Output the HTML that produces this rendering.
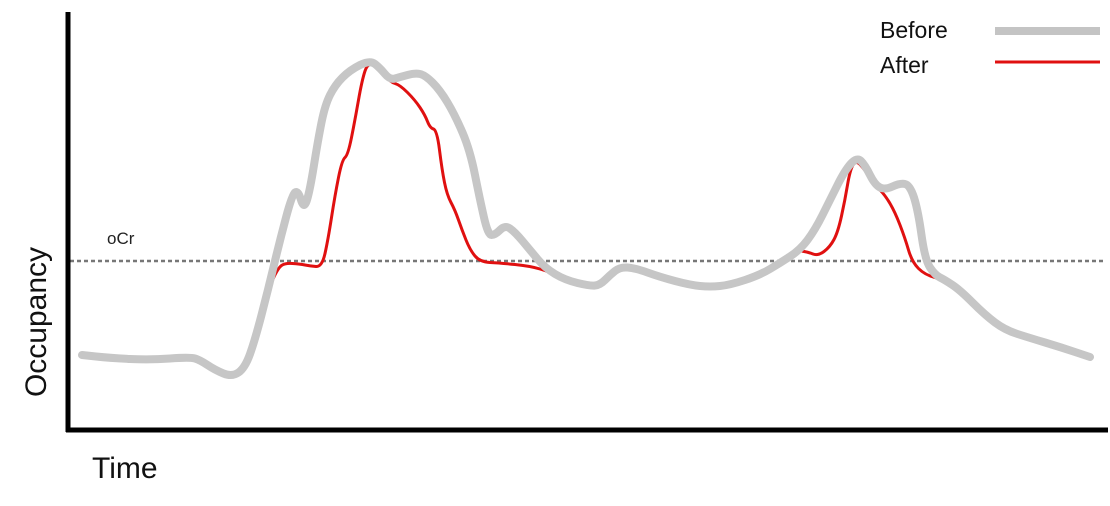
<!DOCTYPE html>
<html><head><meta charset="utf-8"><style>
html,body{margin:0;padding:0;background:#fff;}
svg{display:block;font-family:"Liberation Sans",Arial,sans-serif;}
</style></head><body>
<svg id="chart" width="1110" height="506" viewBox="0 0 1110 506">
<g id="plot"></g>
<line x1="68" y1="12" x2="68" y2="432" stroke="#000" stroke-width="5"/>
<line x1="66" y1="430" x2="1108" y2="430" stroke="#000" stroke-width="5"/>
<text x="0" y="0" transform="translate(46,322) rotate(-90)" text-anchor="middle" font-size="30" fill="#111">Occupancy</text>
<text x="92" y="478" font-size="30" fill="#111">Time</text>
<text x="107" y="244" font-size="17" fill="#222">oCr</text>
<g>
<text x="880" y="38" font-size="23" fill="#111">Before</text>
<line x1="995" y1="31" x2="1100" y2="31" stroke="#c4c4c4" stroke-width="8"/>
<text x="880" y="73" font-size="23" fill="#111">After</text>
<line x1="995" y1="62" x2="1100" y2="62" stroke="#e01010" stroke-width="3"/>
</g>
</svg>
<script>
const beforeT=[14,42,82,122,132,147,164,177,187,200,212,224,230,236,242,250,257,267,282,302,312,322,332,347,357,372,387,402,412,420,427,437,447,462,477,497,522,532,542,552,567,592,622,642,662,692,712,732,747,762,777,789,797,807,817,832,842,850,857,867,877,892,917,937,962,992,1022];
const beforeV=[75,72,70,73,70,60,53,62,90,140,190,235,240,220,240,290,325,345,360,370,362,350,353,357,355,340,315,280,230,195,195,205,198,180,162,150,144,145,155,163,162,153,145,143,145,155,167,180,200,230,260,273,265,245,240,247,245,220,170,155,150,140,115,100,92,83,73];
const afterT=[14,42,82,122,132,147,164,177,187,200,210,217,232,242,254,260,267,274,280,287,294,300,312,322,332,347,357,362,369,374,379,387,394,402,412,432,462,482,497,522,532,542,552,567,592,622,642,662,692,712,727,740,750,762,770,777,782,788,797,807,817,827,837,844,857,877,892,917,937,962,992,1022];
const afterV=[75,72,70,73,70,60,53,62,90,140,162,167,166,164,163,190,235,270,275,310,350,368,362,348,345,330,315,302,300,260,235,220,200,180,168,167,164,158,150,144,145,155,163,162,153,145,143,145,155,167,180,178,174,183,198,230,260,270,260,245,235,218,192,168,155,150,140,115,100,92,83,73];
const ocrLevel=169;
const xMin=0,xMax=1040,yMin=0,yMax=430;
function xS(t){return 68+(t-xMin)/(xMax-xMin)*1040;}
function yS(v){return 430-(v-yMin)/(yMax-yMin)*430;}
function pathFrom(T,V){let d='';for(let i=0;i<T.length;i++){const x=xS(T[i]),y=yS(V[i]);if(i===0)d+='M'+x+' '+y;else{const px=xS(T[i-1]),py=yS(V[i-1]);d+=' Q'+px+' '+py+' '+(px+x)/2+' '+(py+y)/2;}}d+=' L'+xS(T[T.length-1])+' '+yS(V[V.length-1]);return d;}
const ns='http://www.w3.org/2000/svg';
const g=document.getElementById('plot');
const ocr=document.createElementNS(ns,'line');


ocr.setAttribute('x1',70);ocr.setAttribute('x2',1106);ocr.setAttribute('y1',yS(ocrLevel));ocr.setAttribute('y2',yS(ocrLevel));
ocr.setAttribute('stroke','#777');ocr.setAttribute('stroke-width','2.5');ocr.setAttribute('stroke-dasharray','4 3');
g.appendChild(ocr);
const after=document.createElementNS(ns,'path');


after.setAttribute('d',pathFrom(afterT,afterV));
after.setAttribute('fill','none');after.setAttribute('stroke','#e01010');after.setAttribute('stroke-width','3');after.setAttribute('stroke-linejoin','round');
g.appendChild(after);
const before=document.createElementNS(ns,'path');


before.setAttribute('d',pathFrom(beforeT,beforeV));
before.setAttribute('fill','none');before.setAttribute('stroke','#c6c6c6');before.setAttribute('stroke-width','8');before.setAttribute('stroke-linejoin','round');before.setAttribute('stroke-linecap','round');
g.appendChild(before);
</script>
</body></html>
